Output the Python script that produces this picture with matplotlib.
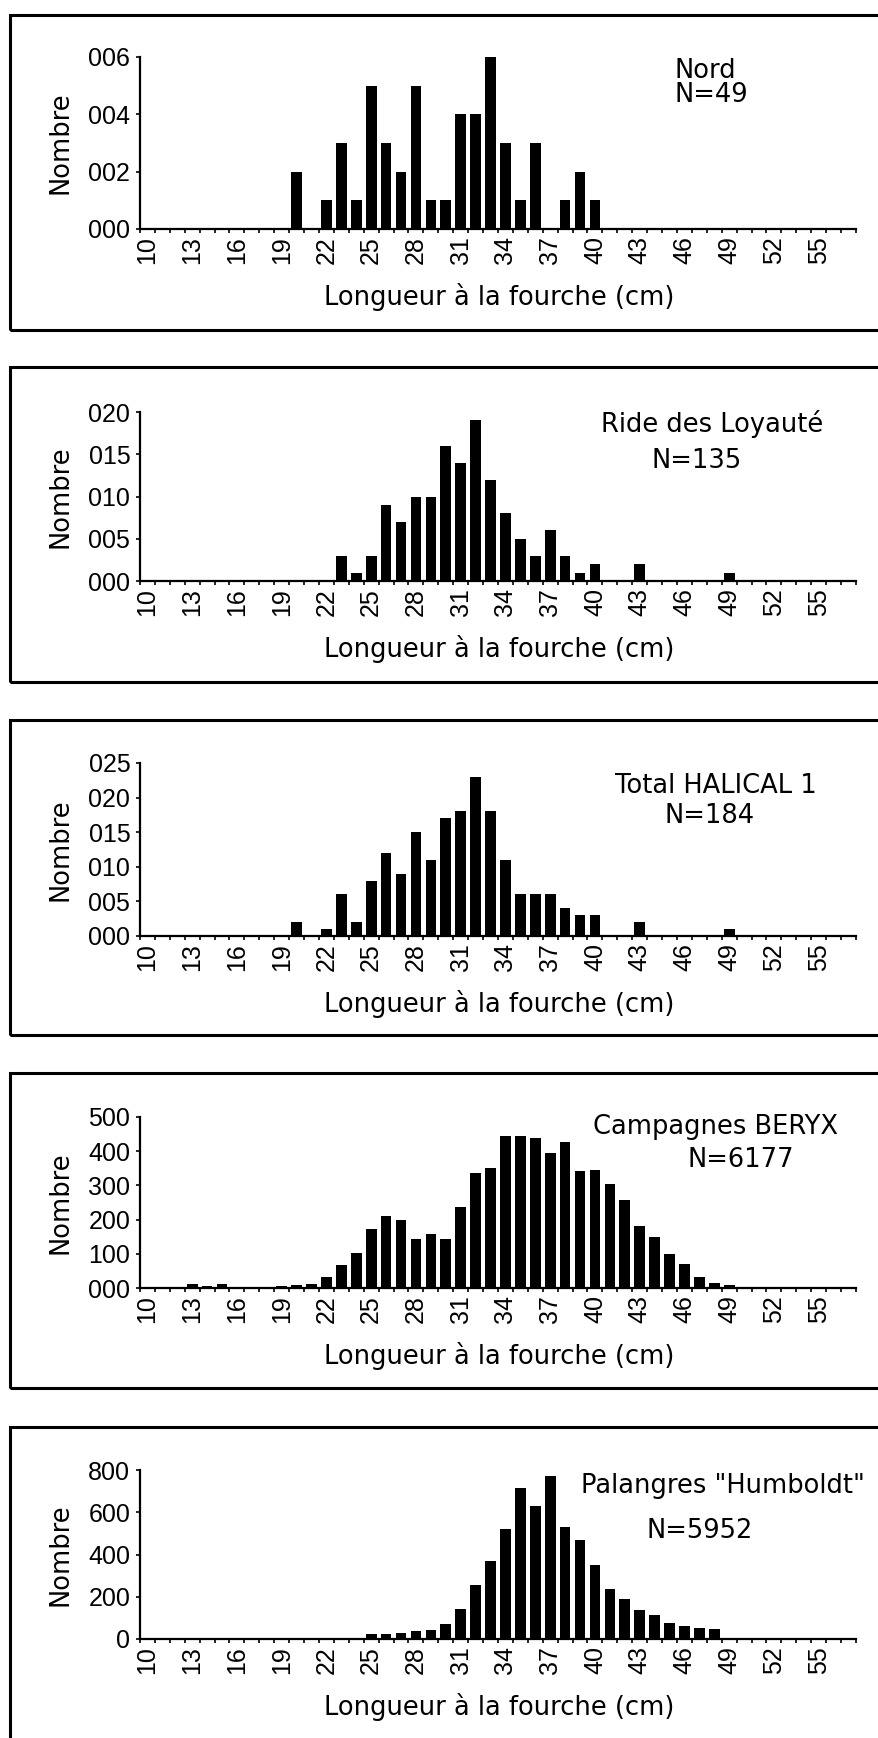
import matplotlib
matplotlib.use("Agg")
import matplotlib.pyplot as plt
from matplotlib.patches import Rectangle
import numpy as np

# ---------------- data ----------------
lengths = list(range(10, 58))          # Longueur à la fourche (cm), 10..57
tick_labels_x = [str(v) for v in range(10, 56, 3)]

nord = [0, 0, 0, 0, 0, 0, 0, 0, 0, 0,
        2, 0, 1, 3, 1, 5, 3, 2, 5, 1,
        1, 4, 4, 6, 3, 1, 3, 0, 1, 2,
        1, 0, 0, 0, 0, 0, 0, 0, 0, 0,
        0, 0, 0, 0, 0, 0, 0, 0]

ride_loyaute = [0, 0, 0, 0, 0, 0, 0, 0, 0, 0,
                0, 0, 0, 3, 1, 3, 9, 7, 10, 10,
                16, 14, 19, 12, 8, 5, 3, 6, 3, 1,
                2, 0, 0, 2, 0, 0, 0, 0, 0, 1,
                0, 0, 0, 0, 0, 0, 0, 0]

total_halical = [0, 0, 0, 0, 0, 0, 0, 0, 0, 0,
                 2, 0, 1, 6, 2, 8, 12, 9, 15, 11,
                 17, 18, 23, 18, 11, 6, 6, 6, 4, 3,
                 3, 0, 0, 2, 0, 0, 0, 0, 0, 1,
                 0, 0, 0, 0, 0, 0, 0, 0]

beryx = [0, 0, 1, 11, 6, 13, 1, 3, 3, 7,
         10, 13, 32, 68, 102, 172, 210, 198, 143, 158,
         144, 237, 337, 350, 443, 445, 438, 394, 426, 343,
         345, 303, 257, 181, 149, 98, 71, 31, 14, 9,
         2, 1, 2, 1, 1, 1, 1, 2]

humboldt = [0, 0, 0, 0, 0, 0, 0, 0, 0, 0,
            0, 0, 0, 0, 0, 25, 25, 27, 37, 42,
            70, 141, 256, 368, 522, 713, 629, 771, 530, 470,
            351, 235, 187, 138, 114, 78, 62, 54, 46, 2,
            0, 0, 0, 0, 0, 0, 0, 0]

titles = ["Nord", "Ride des Loyauté", "Total HALICAL 1",
          "Campagnes BERYX", 'Palangres "Humboldt"']
n_labels = ["N=49", "N=135", "N=184", "N=6177", "N=5952"]

yticks_nord = [0, 2, 4, 6]
ylabels_nord = ["000", "002", "004", "006"]
yticks_ride = [0, 5, 10, 15, 20]
ylabels_ride = ["000", "005", "010", "015", "020"]
yticks_total = [0, 5, 10, 15, 20, 25]
ylabels_total = ["000", "005", "010", "015", "020", "025"]
yticks_beryx = [0, 100, 200, 300, 400, 500]
ylabels_beryx = ["000", "100", "200", "300", "400", "500"]
yticks_humb = [0, 200, 400, 600, 800]
ylabels_humb = ["0", "200", "400", "600", "800"]

xlabel = "Longueur à la fourche (cm)"
ylabel = "Nombre"

# ---------------- layout (pixels) ----------------
W, H = 879, 1738
fig = plt.figure(figsize=(W / 100, H / 100), dpi=100)


def fx(px):
    return px / W


def fy(py):
    return 1 - py / H


series = [nord, ride_loyaute, total_halical, beryx, humboldt]
yticks_all = [yticks_nord, yticks_ride, yticks_total, yticks_beryx, yticks_humb]
ylabels_all = [ylabels_nord, ylabels_ride, ylabels_total, ylabels_beryx, ylabels_humb]

axes_top = [57, 412, 763, 1117, 1470]
axes_bot = [229, 581, 936, 1288, 1639]
box_top = [15, 367, 720, 1073, 1427]
box_h = 315
ax_left, ax_right = 140, 856

# text placement: (x, y, ha) for title and N line
title_pos = [(675, 71, "left"), (712, 424, "center"), (716, 786, "center"),
             (716, 1127, "center"), (723, 1486, "center")]
n_pos = [(675, 95, "left"), (697, 461, "center"), (710, 816, "center"),
         (741, 1160, "center"), (700, 1531, "center")]

digit_font = {"family": "Liberation Sans", "size": 18}
text_font = {"family": "DejaVu Sans", "size": 18.5}

for i in range(5):
    # panel frame (right side runs off the page)
    fig.add_artist(Rectangle((fx(10), fy(box_top[i] + box_h)), 1.2,
                             box_h / H, transform=fig.transFigure,
                             fill=False, lw=2.2, ec="black"))

    t, b = axes_top[i], axes_bot[i]
    ax = fig.add_axes([fx(ax_left), fy(b), (ax_right - ax_left) / W, (b - t) / H])
    ax.bar(lengths, series[i], width=0.72, color="black")
    ax.set_xlim(9.5, 57.5)
    ax.set_ylim(0, yticks_all[i][-1])
    for s in ("top", "right"):
        ax.spines[s].set_visible(False)
    for s in ("left", "bottom"):
        ax.spines[s].set_linewidth(1.6)

    ax.set_xticks(list(range(10, 56, 3)))
    ax.set_xticklabels(tick_labels_x, rotation=90, fontdict=digit_font)
    ax.set_xticks(np.arange(9.5, 58, 1), minor=True)
    ax.tick_params(axis="x", which="major", length=0, pad=5)
    ax.tick_params(axis="x", which="minor", length=3, width=1.2, direction="out")

    ax.set_yticks(yticks_all[i])
    ax.set_yticklabels(ylabels_all[i], fontdict=digit_font)
    ax.tick_params(axis="y", which="major", length=3, width=1.2, pad=4)

    fig.text(fx(61), fy((t + b) / 2), ylabel, rotation=90, ha="center",
             va="center", fontdict=text_font)
    fig.text(fx(499), fy(b + 68), xlabel, ha="center", va="center",
             fontdict=text_font)

    x, y, ha = title_pos[i]
    fig.text(fx(x), fy(y), titles[i], ha=ha, va="center", fontdict=text_font)
    x, y, ha = n_pos[i]
    fig.text(fx(x), fy(y), n_labels[i], ha=ha, va="center", fontdict=text_font)

fig.savefig("out.png", dpi=100, facecolor="white")
